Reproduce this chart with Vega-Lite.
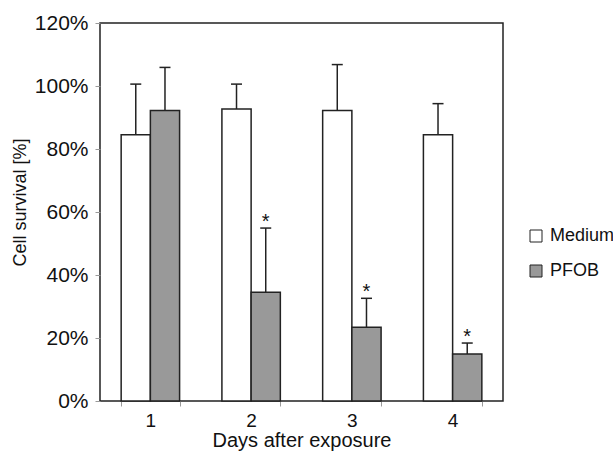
{
  "$schema": "https://vega.github.io/schema/vega-lite/v6.json",
  "autosize": {"type": "none"},
  "padding": {"left": 100, "top": 23, "right": 110, "bottom": 53},
  "width": 403,
  "height": 378,
  "background": "#ffffff",
  "config": {
    "font": "Liberation Sans",
    "view": {"stroke": "#222222", "strokeWidth": 1.5}
  },
  "data": {
    "values": [
      {"day": "1", "group": "Medium", "value": 84.5, "upper": 100.6, "star": ""},
      {"day": "1", "group": "PFOB", "value": 92.2, "upper": 105.9, "star": ""},
      {"day": "2", "group": "Medium", "value": 92.7, "upper": 100.6, "star": ""},
      {"day": "2", "group": "PFOB", "value": 34.5, "upper": 54.9, "star": "*"},
      {"day": "3", "group": "Medium", "value": 92.2, "upper": 106.8, "star": ""},
      {"day": "3", "group": "PFOB", "value": 23.4, "upper": 32.6, "star": "*"},
      {"day": "4", "group": "Medium", "value": 84.5, "upper": 94.4, "star": ""},
      {"day": "4", "group": "PFOB", "value": 14.9, "upper": 18.4, "star": "*"}
    ]
  },
  "encoding": {
    "x": {
      "field": "day", "type": "nominal",
      "scale": {"paddingInner": 0.42, "paddingOuter": 0.21},
      "axis": {
        "title": "Days after exposure", "titleFontSize": 20, "titleFontWeight": "normal", "titleColor": "#111",
        "titlePadding": 0,
        "labelAngle": 0, "labelFontSize": 19, "labelColor": "#111", "labelPadding": 5,
        "tickBand": "extent", "tickSize": 5, "tickColor": "#999999", "domain": false
      }
    },
    "xOffset": {"field": "group", "type": "nominal", "scale": {"paddingInner": 0, "paddingOuter": 0}}
  },
  "layer": [
    {
      "mark": {"type": "rule", "stroke": "#222222", "strokeWidth": 1.5},
      "encoding": {
        "y": {"field": "value", "type": "quantitative"},
        "y2": {"field": "upper"}
      }
    },
    {
      "mark": {"type": "tick", "color": "#222222", "thickness": 1.5, "size": 11, "opacity": 1},
      "encoding": {
        "y": {"field": "upper", "type": "quantitative"}
      }
    },
    {
      "mark": {"type": "bar", "stroke": "#222222", "strokeWidth": 1.5},
      "encoding": {
        "y": {
          "field": "value", "type": "quantitative",
          "scale": {"domain": [0, 120], "nice": false},
          "axis": {
            "title": "Cell survival [%]", "titleFontSize": 18, "titleFontWeight": "normal", "titleColor": "#111",
            "titlePadding": 5, "titleY": 179,
            "values": [0, 20, 40, 60, 80, 100, 120],
            "labelExpr": "datum.value + '%'",
            "labelFontSize": 21, "labelColor": "#111", "labelPadding": 7,
            "tickSize": 5, "tickColor": "#999999", "grid": false, "domain": false
          }
        },
        "fill": {
          "field": "group", "type": "nominal",
          "scale": {"domain": ["Medium", "PFOB"], "range": ["#ffffff", "#999999"]},
          "legend": {
            "title": null, "orient": "none", "legendX": 427, "legendY": 204,
            "symbolType": "square", "symbolSize": 144, "symbolStrokeColor": "#222222", "symbolStrokeWidth": 1,
            "labelFontSize": 18, "labelColor": "#111", "labelOffset": 5, "rowPadding": 17
          }
        }
      }
    },
    {
      "mark": {"type": "text", "fontSize": 20, "baseline": "alphabetic", "dy": 0, "color": "#111"},
      "encoding": {
        "y": {"field": "upper", "type": "quantitative"},
        "text": {"field": "star"}
      }
    }
  ]
}
